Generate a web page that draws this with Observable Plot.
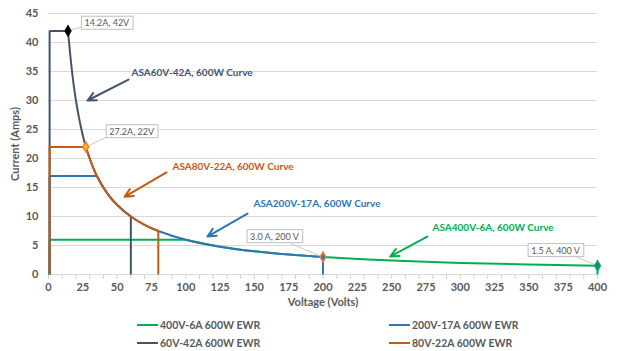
<!DOCTYPE html>
<html><head><meta charset="utf-8">
<script src="https://cdn.jsdelivr.net/npm/d3@7"></script>
<script src="https://cdn.jsdelivr.net/npm/@observablehq/plot@0.6"></script>
<style>
body{margin:0;background:#fff;font-family:Lato,sans-serif;}
#wrap{position:relative;width:617px;height:351px;overflow:hidden;}
.leg{position:absolute;display:flex;align-items:center;height:14px;font:bold 10.5px Lato,sans-serif;color:#595959;white-space:nowrap;}
.leg .sw{display:inline-block;width:21px;height:2.5px;margin-right:2px;}
</style></head><body><div id="wrap"></div>
<script>
// ---- series names / colours
const seriesNames = ["400V-6A 600W EWR", "200V-17A 600W EWR", "60V-42A 600W EWR", "80V-22A 600W EWR"];
const seriesColors = ["#00b050", "#2e75b6", "#44546a", "#c55a11"];

// ---- 400V-6A
const flatV400 = [0.8, 0.8, 100], flatA400 = [0, 6, 6];
const curveV400 = [100, 125, 150, 175, 200, 250, 300, 350, 400];
const curveA400 = [6, 4.8, 4, 3.43, 3, 2.4, 2, 1.71, 1.5];
const dropV400 = [400, 400], dropA400 = [1.5, 0];
// ---- 200V-17A
const flatV200 = [0.8, 0.8, 35.3], flatA200 = [0, 17, 17];
const curveV200 = [35.3, 40, 45, 50, 60, 70, 80, 100, 125, 150, 175, 200];
const curveA200 = [17, 15, 13.3, 12, 10, 8.57, 7.5, 6, 4.8, 4, 3.43, 3];
const dropV200 = [200, 200], dropA200 = [3, 0];
// ---- 60V-42A
const flatV60 = [0.8, 0.8, 14.2], flatA60 = [0, 42, 42];
const curveV60 = [14.2, 15, 16, 17, 18, 19, 20, 22, 24, 27.2, 30, 35, 40, 45, 50, 55, 60];
const curveA60 = [42, 40, 37.5, 35.3, 33.3, 31.6, 30, 27.3, 25, 22, 20, 17.1, 15, 13.3, 12, 10.9, 10];
const dropV60 = [60, 60], dropA60 = [10, 0];
// ---- 80V-22A
const flatV80 = [0.8, 0.8, 27.2], flatA80 = [0, 22, 22];
const curveV80 = [27.2, 30, 35, 40, 45, 50, 60, 70, 80];
const curveA80 = [22, 20, 17.1, 15, 13.3, 12, 10, 8.57, 7.5];
const dropV80 = [80, 80], dropA80 = [7.5, 0];

// ---- ticks
const xTicks = [0, 25, 50, 75, 100, 125, 150, 175, 200, 225, 250, 275, 300, 325, 350, 375, 400];
const xMinorTicks = d3.range(0, 401, 10);
const yTicks = [0, 5, 10, 15, 20, 25, 30, 35, 40, 45];

// ---- callouts
const calloutText = ["14.2A, 42V", "27.2A, 22V", "3.0 A, 200 V", "1.5 A, 400 V"];
const calloutPointV = [14.2, 27.2, 200, 400];
const calloutPointA = [42, 22, 3, 1.5];
const calloutBoxV = [42.5, 60.6, 164.6, 369.4];
const calloutBoxA = [43.3, 24.6, 6.5, 4.1];
const calloutLeaderV = [26.2, 45.2, 176.3, 384];
const calloutLeaderA = [42.8, 24.0, 5.34, 3.1];
const markerFill = ["#000000", "#ffc000", "#2e75b6", "#2e75b6"];
const markerStroke = ["#000000", "#ed7d31", "#ed7d31", "#00b050"];

// ---- curve labels + arrows
const curveLabels = ["ASA60V-42A, 600W Curve", "ASA80V-22A, 600W Curve", "ASA200V-17A, 600W Curve", "ASA400V-6A, 600W Curve"];
const curveLabelColors = ["#44546a", "#c55a11", "#2e75b6", "#00b050"];
const curveLabelV = [60.5, 90.3, 149.4, 279.8];
const curveLabelA = [34.7, 18.6, 12.24, 8.1];
const arrowV1 = [58.3, 86, 145, 276], arrowA1 = [33.6, 17.6, 10.5, 6.55];
const arrowV2 = [28.4, 55.4, 115.8, 249], arrowA2 = [30.0, 13.4, 6.55, 3.1];

const pts = (V, A) => V.map((v, i) => ({v, a: A[i]}));
const parts = [
  [flatV400, flatA400, curveV400, curveA400, dropV400, dropA400],
  [flatV200, flatA200, curveV200, curveA200, dropV200, dropA200],
  [flatV60, flatA60, curveV60, curveA60, dropV60, dropA60],
  [flatV80, flatA80, curveV80, curveA80, dropV80, dropA80]
];

const seriesMarks = parts.flatMap((p, i) => {
  const c = seriesColors[i];
  return [
    Plot.line(pts(p[0], p[1]), {x: "v", y: "a", stroke: c, strokeWidth: 2, strokeLinejoin: "miter", strokeLinecap: "butt"}),
    Plot.line(pts(p[2], p[3]), {x: "v", y: "a", stroke: c, strokeWidth: 2, curve: "catmull-rom"}),
    Plot.line(pts(p[4], p[5]), {x: "v", y: "a", stroke: c, strokeWidth: 2, strokeLinecap: "butt"})
  ];
});

const callouts = calloutText.map((t, i) => ({
  t, pv: calloutPointV[i], pa: calloutPointA[i], bv: calloutBoxV[i], ba: calloutBoxA[i],
  lv: calloutLeaderV[i], la: calloutLeaderA[i], fill: markerFill[i], stroke: markerStroke[i]
}));
const labels = curveLabels.map((t, i) => ({
  t, c: curveLabelColors[i], v: curveLabelV[i], a: curveLabelA[i],
  v1: arrowV1[i], a1: arrowA1[i], v2: arrowV2[i], a2: arrowA2[i]
}));

const chart = Plot.plot({
  width: 617, height: 312,
  marginLeft: 48, marginRight: 20, marginTop: 13, marginBottom: 38,
  style: {fontFamily: "Lato, sans-serif", fontSize: "11px", background: "#fff"},
  x: {domain: [0, 400]},
  y: {domain: [0, 45]},
  marks: [
    Plot.ruleY(yTicks.filter(d => d > 0), {stroke: "#d9d9d9", strokeWidth: 1}),
    Plot.axisX(xMinorTicks, {tickSize: 5, tickFormat: () => "", stroke: "#d0d0d0", label: null}),
    Plot.axisX(xTicks, {tickSize: 0, tickPadding: 9, fontSize: 11, fontWeight: "bold", fill: "#595959", label: null}),
    Plot.axisY(yTicks, {tickSize: 0, tickPadding: 10, fontSize: 11, fontWeight: "bold", fill: "#595959", label: null}),
    Plot.ruleY([0], {stroke: "#d9d9d9", strokeWidth: 1}),
    ...seriesMarks,
    Plot.link(callouts, {x1: "pv", y1: "pa", x2: "lv", y2: "la", stroke: "#c8c8c8", strokeWidth: 1}),
    Plot.dot(callouts, {x: "pv", y: "pa", symbol: "diamond", r: 3, fill: "fill", stroke: "stroke", strokeWidth: 1.5}),
    Plot.text(callouts, {x: "bv", y: "ba", text: "t", fontSize: 9, fill: "#595959"}),
    Plot.arrow(labels, {x1: "v1", y1: "a1", x2: "v2", y2: "a2", stroke: "c", strokeWidth: 2, headLength: 7, headAngle: 50}),
    Plot.text(labels, {x: "v", y: "a", text: "t", fill: "c", textAnchor: "start", fontWeight: "bold", fontSize: 10}),
    Plot.text(["Current (Amps)"], {frameAnchor: "left", textAnchor: "middle", dx: -33, rotate: -90, fontWeight: "bold", fontSize: 11, fill: "#595959"}),
    Plot.text(["Voltage (Volts)"], {frameAnchor: "bottom", dy: 31, fontWeight: "bold", fontSize: 11, fill: "#595959"})
  ]
});

const wrap = document.getElementById("wrap");
wrap.appendChild(chart);

// boxes behind callout labels
const ns = "http://www.w3.org/2000/svg";
chart.querySelectorAll("text").forEach(t => {
  if (!calloutText.includes(t.textContent)) return;
  const b = t.getBBox();
  const r = document.createElementNS(ns, "rect");
  r.setAttribute("x", b.x - 3); r.setAttribute("y", b.y - 1);
  r.setAttribute("width", b.width + 6); r.setAttribute("height", b.height + 2);
  r.setAttribute("fill", "#fff"); r.setAttribute("stroke", "#bfbfbf"); r.setAttribute("stroke-width", "1");
  ["transform", "x", "y"].forEach(a => {});
  const tr = t.getAttribute("transform"); if (tr) r.setAttribute("transform", tr);
  t.parentNode.insertBefore(r, t);
});

// legend
const legendPos = [[137, 318], [389, 318], [137, 336], [389, 336]];
seriesNames.forEach((n, i) => {
  const d = document.createElement("div");
  d.className = "leg";
  d.style.left = legendPos[i][0] + "px";
  d.style.top = legendPos[i][1] + "px";
  d.innerHTML = `<span class="sw" style="background:${seriesColors[i]}"></span>${n}`;
  wrap.appendChild(d);
});
</script></body></html>
